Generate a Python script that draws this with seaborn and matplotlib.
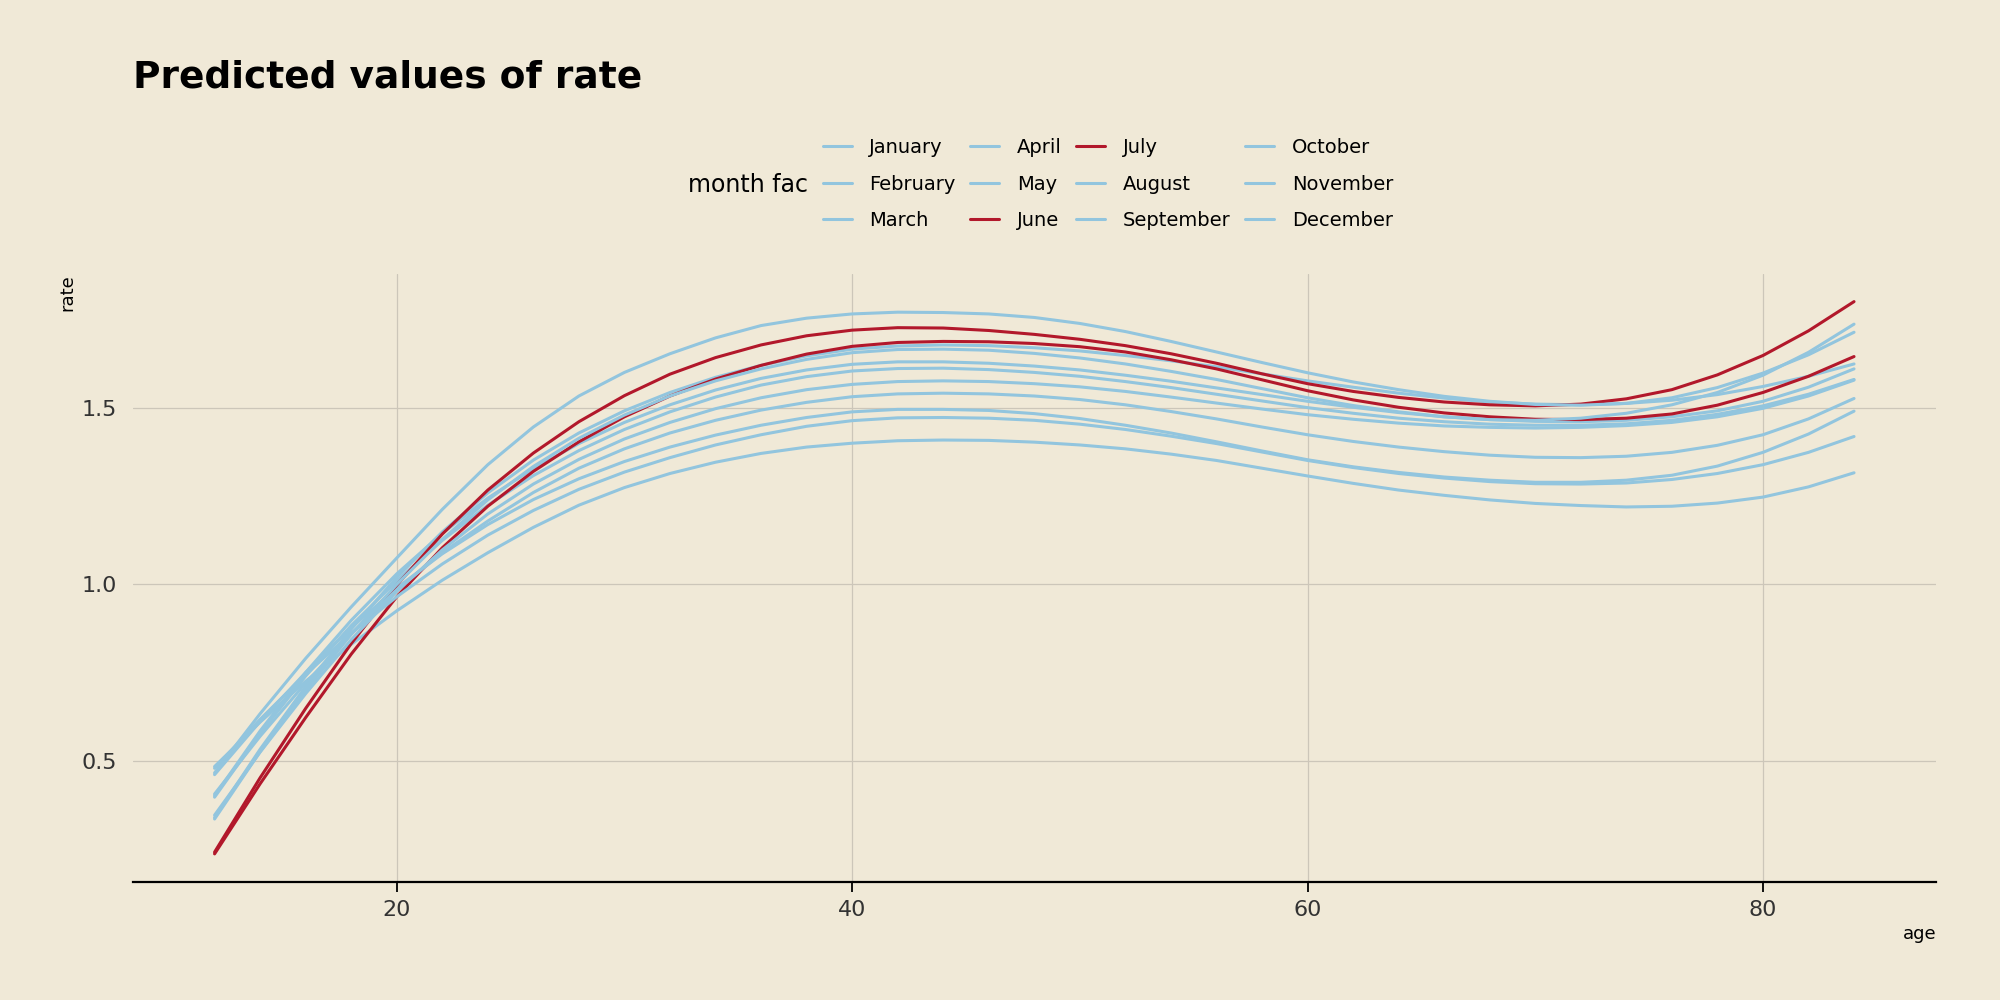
"""Predicted rate by age for each month, June and July highlighted."""
import matplotlib
matplotlib.use("Agg")
import matplotlib.pyplot as plt
import pandas as pd
import seaborn as sns

BG = "#f0e9d7"
BLUE = "#92c5de"
RED = "#b2182b"

AGES = [12, 14, 16, 18, 20, 22, 24, 26, 28, 30, 32, 34, 36, 38, 40, 42, 44, 46, 48,
        50, 52, 54, 56, 58, 60, 62, 64, 66, 68, 70, 72, 74, 76, 78, 80, 82, 84]

MONTHS = ["January", "February", "March", "April", "May", "June",
          "July", "August", "September", "October", "November", "December"]
HIGHLIGHT = ["June", "July"]

# predicted rate at each age in AGES
RATE_JAN = [0.400, 0.584, 0.750, 0.898, 1.030, 1.145, 1.245, 1.329, 1.400, 1.460,
            1.510, 1.552, 1.585, 1.609, 1.625, 1.632, 1.632, 1.628, 1.620, 1.609,
            1.594, 1.577, 1.558, 1.539, 1.520, 1.503, 1.488, 1.476, 1.468, 1.463,
            1.462, 1.466, 1.476, 1.493, 1.520, 1.560, 1.612]
RATE_FEB = [0.460, 0.611, 0.750, 0.877, 0.990, 1.087, 1.170, 1.241, 1.300, 1.349,
            1.390, 1.424, 1.452, 1.474, 1.490, 1.497, 1.497, 1.494, 1.485, 1.471,
            1.452, 1.430, 1.405, 1.379, 1.354, 1.334, 1.318, 1.305, 1.296, 1.290,
            1.290, 1.296, 1.310, 1.336, 1.375, 1.427, 1.492]
RATE_MAR = [0.483, 0.609, 0.725, 0.830, 0.925, 1.012, 1.090, 1.162, 1.225, 1.275,
            1.315, 1.347, 1.372, 1.390, 1.401, 1.408, 1.410, 1.409, 1.404, 1.396,
            1.385, 1.370, 1.352, 1.330, 1.308, 1.287, 1.268, 1.253, 1.240, 1.230,
            1.224, 1.220, 1.222, 1.231, 1.248, 1.277, 1.317]
RATE_APR = [0.338, 0.532, 0.710, 0.873, 1.020, 1.149, 1.260, 1.353, 1.430, 1.493,
            1.545, 1.588, 1.622, 1.649, 1.668, 1.677, 1.680, 1.678, 1.672, 1.663,
            1.650, 1.635, 1.618, 1.598, 1.578, 1.560, 1.543, 1.529, 1.518, 1.512,
            1.510, 1.514, 1.523, 1.539, 1.562, 1.591, 1.626]
RATE_MAY = [0.396, 0.577, 0.740, 0.883, 1.010, 1.125, 1.225, 1.309, 1.380, 1.440,
            1.490, 1.532, 1.566, 1.590, 1.606, 1.613, 1.614, 1.610, 1.602, 1.591,
            1.576, 1.559, 1.540, 1.521, 1.502, 1.486, 1.472, 1.462, 1.455, 1.452,
            1.452, 1.456, 1.466, 1.483, 1.507, 1.540, 1.582]
RATE_JUN = [0.235, 0.434, 0.622, 0.802, 0.965, 1.104, 1.222, 1.321, 1.405, 1.476,
            1.535, 1.583, 1.622, 1.654, 1.676, 1.687, 1.690, 1.689, 1.684, 1.675,
            1.660, 1.638, 1.612, 1.581, 1.550, 1.524, 1.503, 1.487, 1.476, 1.469,
            1.468, 1.472, 1.484, 1.509, 1.545, 1.591, 1.647]
RATE_JUL = [0.240, 0.451, 0.648, 0.832, 0.998, 1.143, 1.268, 1.373, 1.462, 1.536,
            1.597, 1.644, 1.680, 1.706, 1.722, 1.729, 1.728, 1.721, 1.710, 1.696,
            1.678, 1.655, 1.628, 1.598, 1.570, 1.548, 1.531, 1.518, 1.510, 1.507,
            1.512, 1.527, 1.553, 1.595, 1.650, 1.720, 1.803]
RATE_AUG = [0.465, 0.633, 0.790, 0.936, 1.075, 1.213, 1.340, 1.447, 1.535, 1.602,
            1.655, 1.700, 1.735, 1.756, 1.768, 1.773, 1.772, 1.768, 1.758, 1.741,
            1.718, 1.690, 1.660, 1.630, 1.601, 1.575, 1.553, 1.534, 1.520, 1.511,
            1.509, 1.514, 1.530, 1.559, 1.600, 1.652, 1.716]
RATE_SEP = [0.405, 0.569, 0.720, 0.860, 0.985, 1.090, 1.180, 1.261, 1.330, 1.385,
            1.430, 1.466, 1.495, 1.517, 1.533, 1.541, 1.543, 1.541, 1.535, 1.525,
            1.510, 1.491, 1.470, 1.447, 1.425, 1.406, 1.390, 1.377, 1.367, 1.361,
            1.360, 1.364, 1.375, 1.395, 1.425, 1.470, 1.528]
RATE_OCT = [0.334, 0.525, 0.700, 0.858, 1.000, 1.128, 1.240, 1.335, 1.415, 1.481,
            1.535, 1.578, 1.612, 1.639, 1.658, 1.667, 1.668, 1.665, 1.656, 1.643,
            1.626, 1.605, 1.582, 1.556, 1.530, 1.508, 1.490, 1.476, 1.468, 1.466,
            1.472, 1.486, 1.510, 1.545, 1.594, 1.659, 1.739]
RATE_NOV = [0.345, 0.524, 0.690, 0.843, 0.980, 1.098, 1.200, 1.285, 1.355, 1.413,
            1.460, 1.499, 1.530, 1.553, 1.568, 1.576, 1.578, 1.576, 1.570, 1.561,
            1.548, 1.532, 1.515, 1.498, 1.482, 1.469, 1.458, 1.450, 1.446, 1.444,
            1.446, 1.451, 1.460, 1.476, 1.500, 1.535, 1.580]
RATE_DEC = [0.478, 0.617, 0.745, 0.861, 0.965, 1.058, 1.140, 1.210, 1.270, 1.319,
            1.360, 1.396, 1.425, 1.449, 1.465, 1.473, 1.474, 1.472, 1.466, 1.455,
            1.440, 1.421, 1.400, 1.376, 1.352, 1.332, 1.315, 1.302, 1.292, 1.286,
            1.285, 1.288, 1.298, 1.315, 1.340, 1.375, 1.420]

RATES = [RATE_JAN, RATE_FEB, RATE_MAR, RATE_APR, RATE_MAY, RATE_JUN,
         RATE_JUL, RATE_AUG, RATE_SEP, RATE_OCT, RATE_NOV, RATE_DEC]


def build_frame() -> pd.DataFrame:
    rows = []
    for month, rates in zip(MONTHS, RATES):
        for age, rate in zip(AGES, rates):
            rows.append({"age": age, "rate": rate, "month fac": month})
    return pd.DataFrame(rows)


def main() -> None:
    sns.set_theme(style="white")
    plt.rcParams["font.family"] = ["DejaVu Sans"]

    df = build_frame()
    palette = {m: (RED if m in HIGHLIGHT else BLUE) for m in MONTHS}

    fig = plt.figure(figsize=(20, 10), dpi=100, facecolor=BG)
    ax = fig.add_axes([0.0663, 0.1185, 0.9017, 0.6075])
    ax.set_facecolor(BG)

    sns.lineplot(data=df, x="age", y="rate", hue="month fac", hue_order=MONTHS,
                 palette=palette, linewidth=2.2, errorbar=None, sort=False, ax=ax)

    handles, labels = ax.get_legend_handles_labels()
    ax.get_legend().remove()
    fig.legend(handles, labels, loc="center left", bbox_to_anchor=(0.4025, 0.816),
               ncol=4, frameon=False, fontsize=14, labelcolor="black",
               handlelength=1.5, handletextpad=0.9, columnspacing=0.75,
               labelspacing=0.9)
    fig.text(0.404, 0.815, "month fac", fontsize=17, color="black",
             ha="right", va="center")

    fig.text(0.0663, 0.923, "Predicted values of rate", fontsize=27,
             fontweight="bold", color="black", ha="left", va="center")

    ax.set_xticks([20, 40, 60, 80])
    ax.set_yticks([0.5, 1.0, 1.5])
    ax.set_yticklabels(["0.5", "1.0", "1.5"])
    ax.grid(True, color="#ccc6b9", linewidth=0.9)
    for side in ("left", "right", "top"):
        ax.spines[side].set_visible(False)
    ax.spines["bottom"].set_color("black")
    ax.spines["bottom"].set_linewidth(1.6)
    ax.tick_params(axis="x", length=7, width=1.3, color="black", labelsize=16,
                   labelcolor="#333333", pad=6, bottom=True)
    ax.tick_params(axis="y", length=0, labelsize=16, labelcolor="#333333", pad=11)
    ax.set_xlabel("age", loc="right", fontsize=13, color="black")
    ax.set_ylabel("rate", loc="top", fontsize=13, color="black")

    fig.savefig("out.png", dpi=100, facecolor=BG)
    plt.close(fig)


if __name__ == "__main__":
    main()
